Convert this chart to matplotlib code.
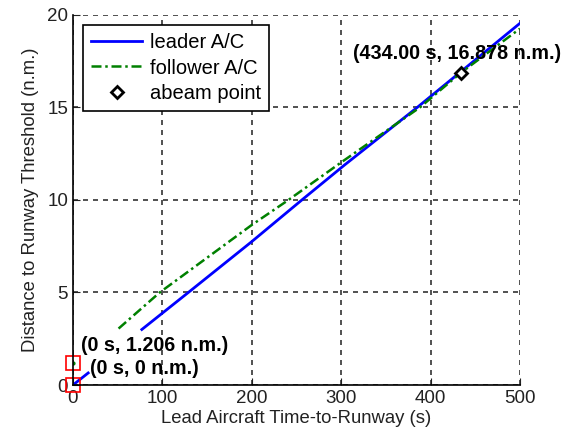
import matplotlib
matplotlib.use("Agg")
import matplotlib.pyplot as plt

plt.rcParams['font.family'] = ['Liberation Sans', 'DejaVu Sans']

# leader aircraft: distance to threshold vs lead time-to-runway
leader_t = [77, 129, 200, 256, 304, 385, 500]
leader_d = [3.0, 5.0, 7.75, 10.0, 11.9, 15.0, 19.55]
leader_t0 = [0, 17]
leader_d0 = [0.0, 0.65]

# follower aircraft
follower_t = [51, 97, 200, 241, 302, 388, 434, 500]
follower_d = [3.05, 5.0, 8.65, 10.0, 12.1, 15.0, 16.878, 19.26]

abeam_t = 434.0
abeam_d = 16.878
start_t = [0, 0]
start_d = [0.0, 1.206]

fig = plt.figure(figsize=(5.76, 4.4), dpi=100)
ax = fig.add_axes([0.1267, 0.125, 0.776, 0.841])

ax.plot(leader_t, leader_d, color='#0000ff', lw=2, label='leader A/C')
ax.plot(leader_t0, leader_d0, color='#0000ff', lw=2)
ax.plot(follower_t, follower_d, color='#008000', lw=1.8, ls=(0, (4, 1.5, 1, 1.5)), label='follower A/C')
ax.plot([0], [1.206], marker='.', color='#008000', ms=4)
ax.plot([abeam_t], [abeam_d], ls='none', marker='D', ms=6.5, mfc='white', mec='black', mew=2, label='abeam point')
ax.plot(start_t, start_d, ls='none', marker='s', ms=10, mfc='none', mec='red', mew=1.2, clip_on=False)

ax.annotate('(0 s, 1.206 n.m.)', xy=(9, 2.16), va='center', ha='left', fontsize=14.2, fontweight='bold')
ax.annotate('(0 s, 0 n.m.)', xy=(19, 0.9), va='center', ha='left', fontsize=14.2, fontweight='bold')
ax.annotate('(434.00 s, 16.878 n.m.)', xy=(313, 17.93), va='center', ha='left', fontsize=14.2, fontweight='bold')

ax.set_xlim(0, 500)
ax.set_ylim(0, 20)
ax.set_xticks([0, 100, 200, 300, 400, 500])
ax.set_yticks([0, 5, 10, 15, 20])
ax.grid(True, color='#333333', ls=(0, (3, 3)), lw=1.2)
ax.spines['top'].set_visible(False)
ax.spines['right'].set_visible(False)
for s in ['left', 'bottom']:
    ax.spines[s].set_linewidth(1.2)
ax.tick_params(direction='in', length=5, labelsize=13.5, colors='#222222')
ax.set_xlabel('Lead Aircraft Time-to-Runway (s)', fontsize=13.3, color='#222222', labelpad=2)
ax.set_ylabel('Distance to Runway Threshold (n.m.)', fontsize=13.3, color='#222222', labelpad=6)

leg = ax.legend(loc='upper left', fontsize=14.5, fancybox=False, edgecolor='black',
                framealpha=1, handlelength=2.55, borderaxespad=0.5, labelspacing=0.32,
                handletextpad=0.35, borderpad=0.4)
leg.get_frame().set_linewidth(1.2)

fig.savefig('out.png', dpi=100)
